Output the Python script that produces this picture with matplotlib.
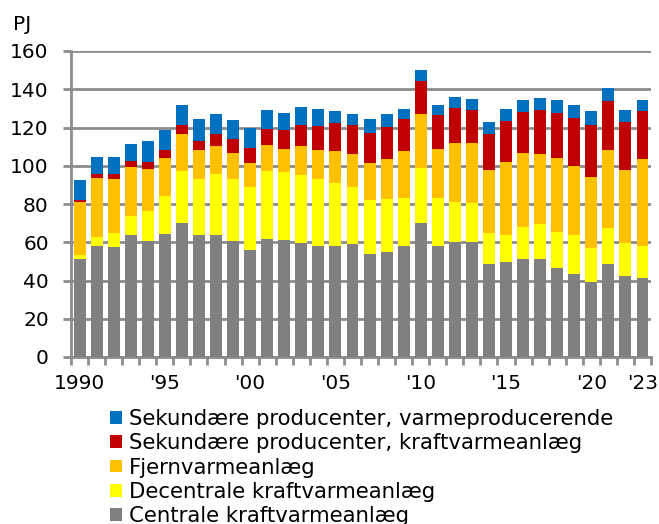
import numpy as np
import matplotlib
matplotlib.use("Agg")
import matplotlib.pyplot as plt

years = np.arange(1990, 2024)

centrale = [51.2, 58.0, 57.5, 63.6, 60.8, 64.5, 70.2, 63.6, 63.6, 60.5,
            56.1, 61.7, 61.0, 59.8, 58.2, 58.2, 58.9, 54.0, 54.7, 58.2,
            70.2, 58.2, 60.3, 60.3, 48.4, 49.8, 51.2, 51.2, 46.4, 43.6,
            39.4, 48.4, 42.2, 41.5]
decentrale = [2.1, 4.6, 7.2, 10.1, 15.5, 19.7, 27.1, 29.5, 32.1, 32.6,
              32.8, 35.6, 35.6, 35.4, 34.9, 32.8, 30.0, 27.9, 27.9, 25.1,
              28.4, 25.1, 20.7, 20.0, 16.3, 14.0, 16.8, 18.3, 19.0, 20.2,
              17.6, 18.9, 17.6, 16.7]
fjernvarme = [27.9, 31.2, 28.4, 25.5, 22.2, 20.0, 19.3, 15.1, 14.6, 13.7,
              12.5, 13.7, 12.3, 15.3, 15.1, 16.5, 17.2, 19.5, 20.9, 24.2,
              28.5, 25.6, 30.7, 31.4, 33.1, 38.2, 38.8, 36.6, 38.7, 36.1,
              37.3, 40.9, 38.1, 45.1]
sek_kraftvarme = [0.7, 2.1, 2.8, 3.5, 3.5, 4.2, 4.7, 4.9, 6.3, 7.0,
                  8.1, 8.4, 9.8, 11.0, 12.6, 14.7, 15.4, 15.9, 16.6, 16.8,
                  17.4, 17.5, 18.6, 17.5, 19.0, 21.6, 21.5, 23.2, 23.7, 25.3,
                  27.2, 25.7, 25.0, 25.1]
sek_varme = [10.5, 8.9, 8.9, 8.5, 11.1, 10.3, 10.5, 11.2, 10.5, 9.9,
             10.1, 9.8, 9.1, 9.0, 9.0, 6.4, 5.6, 7.0, 7.0, 5.5,
             5.6, 5.5, 5.6, 5.5, 6.1, 6.2, 6.2, 6.1, 6.7, 6.6,
             6.9, 6.9, 6.3, 6.1]

series = [
    ("Centrale kraftvarmeanlæg", centrale, "#808080"),
    ("Decentrale kraftvarmeanlæg", decentrale, "#FFFF00"),
    ("Fjernvarmeanlæg", fjernvarme, "#FFC000"),
    ("Sekundære producenter, kraftvarmeanlæg", sek_kraftvarme, "#C00000"),
    ("Sekundære producenter, varmeproducerende", sek_varme, "#0070C0"),
]

tick_years = [1990, 1995, 2000, 2005, 2010, 2015, 2020, 2023]
tick_labels = ["1990", "'95", "'00", "'05", "'10", "'15", "'20", "'23"]

grid_col = "#8c8c8c"
fs = 14.5
leg_fs = 15.3

fig = plt.figure(figsize=(6.59, 5.24), dpi=100)
ax = fig.add_axes([71 / 659, 1 - 357 / 524, 580 / 659, 306 / 524])

bottom = np.zeros(len(years))
handles = []
for name, vals, col in series:
    b = ax.bar(years, vals, bottom=bottom, width=0.7, color=col, label=name, zorder=3)
    handles.append(b)
    bottom += np.array(vals)

ax.set_xlim(1989.5, 2023.5)
ax.set_ylim(0, 160)
ax.set_yticks(np.arange(0, 161, 20))
ax.yaxis.grid(True, color=grid_col, lw=2, zorder=0)
ax.set_axisbelow(True)

ax.set_xticks(tick_years)
ax.set_xticklabels(tick_labels)
ax.set_xticks(np.arange(1989.5, 2024, 1), minor=True)
ax.tick_params(axis="x", which="major", length=0, pad=12, labelsize=fs)
ax.tick_params(axis="x", which="minor", length=6, width=2, color=grid_col, direction="out")
ax.tick_params(axis="y", length=6, width=2, color=grid_col, pad=10, labelsize=fs)

for side in ["top", "right"]:
    ax.spines[side].set_visible(False)
for side in ["left", "bottom"]:
    ax.spines[side].set_color(grid_col)
    ax.spines[side].set_linewidth(2)

fig.text(13 / 659, 1 - 25 / 524, "PJ", fontsize=fs, va="center", ha="left")

fig.legend(handles[::-1], [s[0] for s in series][::-1],
           loc="upper left", bbox_to_anchor=(110 / 659, 1 - 409 / 524),
           frameon=False, fontsize=leg_fs, handlelength=0.56, handleheight=0.56,
           handletextpad=0.35, labelspacing=0.2, borderpad=0, borderaxespad=0)

fig.savefig("out.png", dpi=100)
